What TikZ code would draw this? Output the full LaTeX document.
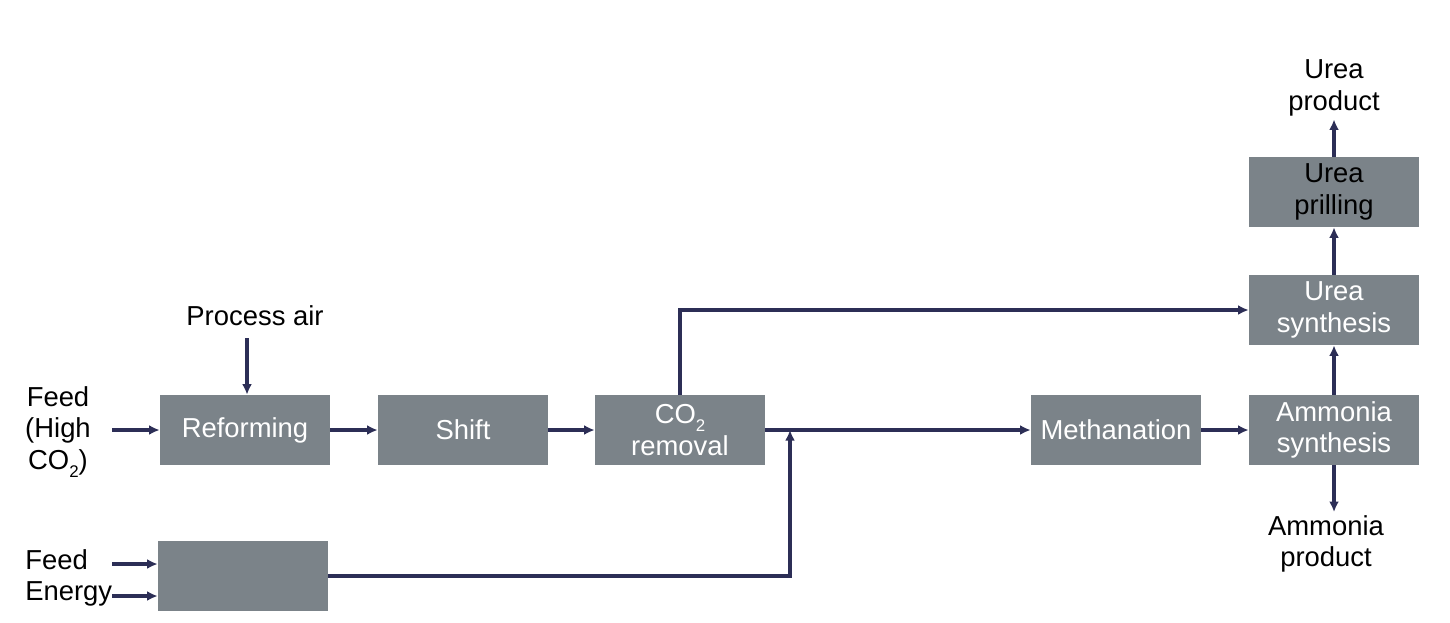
\documentclass[tikz,border=0pt]{standalone}
\usepackage{fontspec}
\setmainfont{Liberation Sans}
\usetikzlibrary{arrows.meta,calc}
\definecolor{boxgray}{RGB}{123,131,137}
\definecolor{flow}{RGB}{44,46,86}
\newcommand{\subtwo}{\raisebox{-0.55ex}{\fontsize{12}{12}\selectfont 2}}
\begin{document}
\begin{tikzpicture}[x=0.025cm,y=-0.025cm,
  unit/.style={fill=boxgray,draw=none,minimum width=4.25cm,minimum height=1.75cm,
    inner sep=0pt,align=center,text=white,font=\fontsize{19.5}{22.5}\selectfont},
  lbl/.style={align=center,text=black,inner sep=0pt,font=\fontsize{19.5}{22.5}\selectfont},
  flowline/.style={draw=flow,line width=2.5pt},
  arr/.style={flowline,-{Latex[length=7.5pt,width=7pt]}}]
\useasboundingbox (0,0) rectangle (1450,623);
% units
\node[unit] (ref)   at (245,430) {Reforming};
\node[unit] (shift) at (463,430) {Shift};
\node[unit] (co2)   at (680,430) {CO\subtwo\\removal};
\node[unit] (meth)  at (1116,430) {Methanation};
\node[unit] (amm)   at (1334,430) {Ammonia\\synthesis};
\node[unit] (usyn)  at (1334,310) {Urea\\synthesis};
\node[unit,text=black] (upril) at (1334,192) {Urea\\prilling};
\node[unit] (blank) at (243,576) {};
% labels
\node[lbl] (feed) at (58,432) {Feed\\(High\\CO\subtwo)};
\node[lbl] (air) at (255,316) {Process air};
\node[lbl,align=left,anchor=west] (fe) at (25,578) {Feed\\Energy};
\node[lbl] (uprod) at (1334,88) {Urea\\product};
\node[lbl] (aprod) at (1326,544) {Ammonia\\product};
% free ends
\coordinate (feedend) at (112,430);
\coordinate (airend) at (247,338);
\coordinate (f1) at (112,564);
\coordinate (f2) at (112,596);
\coordinate (j) at (790,430);
% connectors
\draw[arr] (feedend) -- (ref.west);
\draw[arr] (airend) -- (ref.north -| airend);
\draw[arr] (ref) -- (shift);
\draw[arr] (shift) -- (co2);
\draw[arr] (co2) -- (meth);
\draw[arr] (meth) -- (amm);
\draw[arr] (amm) -- (usyn);
\draw[arr] (usyn) -- (upril);
\draw[arr] (upril.north) -- ($(upril.north |- uprod.south)+(0,3)$);
\draw[arr] (amm.south) -- ($(amm.south |- aprod.north)+(0,-3)$);
\draw[arr] (co2.north) |- (usyn.west);
\draw[arr] (blank.east) -| (j);
\draw[arr] (f1) -- (f1 -| blank.west);
\draw[arr] (f2) -- (f2 -| blank.west);
\end{tikzpicture}
\end{document}
